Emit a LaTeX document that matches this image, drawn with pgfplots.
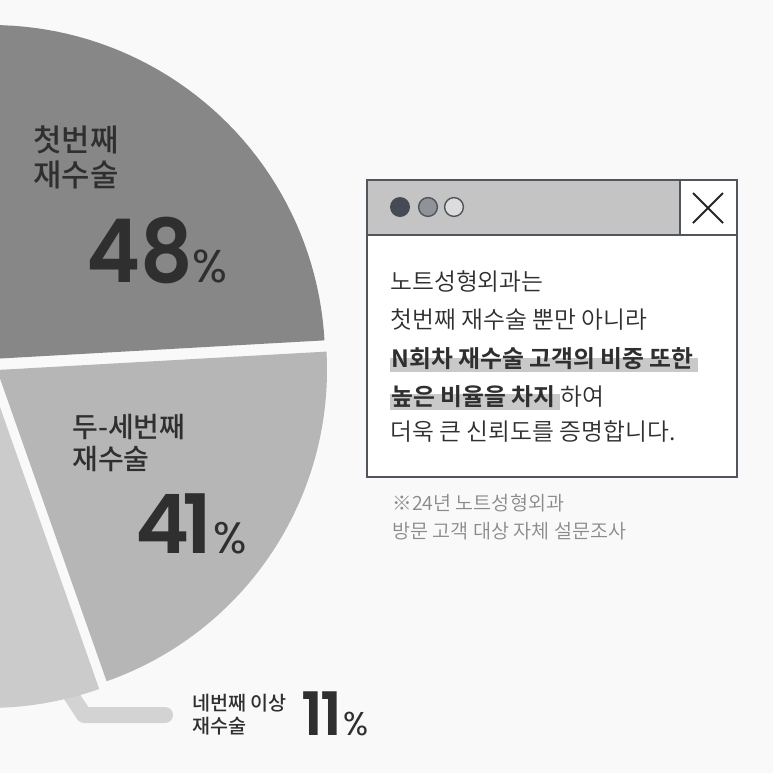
\documentclass[border=0pt]{standalone}
\usepackage{pgfplots}
\pgfplotsset{compat=1.18}
\usepackage{graphicx}
\usepackage{fontspec}
\setmainfont{Noto Sans CJK KR DemiLight}[BoldFont={Noto Sans CJK KR Bold}]
\newfontfamily\krmed{Noto Sans CJK KR Medium}
\newfontfamily\pop{Poppins}
\newfontfamily\popsb{Poppins SemiBold}
\definecolor{bg}{HTML}{F9F9F9}
\definecolor{cA}{HTML}{878787}
\definecolor{cB}{HTML}{B6B6B6}
\definecolor{cC}{HTML}{CBCBCB}
\definecolor{cL}{HTML}{D3D3D3}
\definecolor{tx}{HTML}{2F2F2F}
\definecolor{bx}{HTML}{51555C}
\definecolor{bar}{HTML}{C4C4C4}
\definecolor{hl}{HTML}{C9C9C9}
\definecolor{dotA}{HTML}{454A55}
\definecolor{dotB}{HTML}{8F9399}
\definecolor{fn}{HTML}{8A8A8A}
\pagecolor{bg}
\begin{document}
\begin{tikzpicture}
\begin{axis}[
  scale only axis, width=386.5pt, height=386.5pt,
  xmin=0, xmax=773, ymin=0, ymax=773, y dir=reverse,
  hide axis, clip=true,
]
% leader line for the 11% slice
\addplot[draw=cL, line width=8pt, line cap=round, line join=round] coordinates {(61,680) (84,715) (165,715)};
% slices (48%, 41%, 11%)
\addplot[fill=cA, draw=none, domain=3.2:190, samples=100, variable=\t] ({-9+334*cos(t)}, {359-334*sin(t)}) -- (axis cs:-9,359) -- cycle;
\addplot[fill=cB, draw=none, domain=-70.6:3.2, samples=60, variable=\t] ({-3+330*cos(t)}, {370-330*sin(t)}) -- (axis cs:-3,370) -- cycle;
\addplot[fill=cC, draw=none, domain=-190:-70.6, samples=100, variable=\t] ({-12+335*cos(t)}, {373-335*sin(t)}) -- (axis cs:-12,373) -- cycle;

% slice labels
\node[anchor=base west, inner sep=0, text=tx, font=\krmed\fontsize{15.4}{15.4}\selectfont] at (axis cs:33,151) {첫번째};
\node[anchor=base west, inner sep=0, text=tx, font=\krmed\fontsize{15.4}{15.4}\selectfont] at (axis cs:33,186) {재수술};
\node[anchor=base west, inner sep=0, text=tx] at (axis cs:86,282) {\scalebox{0.93}[1]{\popsb\fontsize{44}{44}\selectfont 48}\kern-0.5pt{\pop\fontsize{23}{23}\selectfont\%}};

\node[anchor=base west, inner sep=0, text=tx, font=\krmed\fontsize{14}{14}\selectfont] at (axis cs:72,437) {두-세번째};
\node[anchor=base west, inner sep=0, text=tx, font=\krmed\fontsize{14}{14}\selectfont] at (axis cs:72,469) {재수술};
\node[anchor=base west, inner sep=0, text=tx] at (axis cs:135,553) {{\popsb\fontsize{41}{41}\selectfont 4\kern-3.5pt1}\kern0.5pt{\pop\fontsize{22}{22}\selectfont\%}};

\node[anchor=base west, inner sep=0, text=tx, font=\krmed\fontsize{9.8}{9.8}\selectfont] at (axis cs:192,710) {네번째 이상};
\node[anchor=base west, inner sep=0, text=tx, font=\krmed\fontsize{9.8}{9.8}\selectfont] at (axis cs:192,733) {재수술};
\node[anchor=base west, inner sep=0, text=tx] at (axis cs:301,735) {{\popsb\fontsize{30}{30}\selectfont 1\kern-1.5pt1}\kern1pt{\pop\fontsize{16.5}{16.5}\selectfont\%}};

% window box
\fill[white] (axis cs:367,180) rectangle (axis cs:737,477);
\fill[bar] (axis cs:367,180) rectangle (axis cs:680,235);
\draw[bx, line width=1pt] (axis cs:367,180) rectangle (axis cs:737,477);
\draw[bx, line width=1pt] (axis cs:367,235) -- (axis cs:737,235);
\draw[bx, line width=1pt] (axis cs:680,180) -- (axis cs:680,235);
\draw[black!85, line width=1pt] (axis cs:693,193) -- (axis cs:723,223);
\draw[black!85, line width=1pt] (axis cs:693,223) -- (axis cs:723,193);
\fill[dotA] (axis cs:400,207) circle[radius=5pt];
\filldraw[fill=dotB, draw=bx, line width=0.7pt] (axis cs:428,207) circle[radius=4.7pt];
\filldraw[fill=bar!60!white, draw=bx, line width=0.7pt] (axis cs:454,207) circle[radius=4.7pt];

% highlights
\fill[hl] (axis cs:390,358) rectangle (axis cs:698,372);
\fill[hl] (axis cs:390,394) rectangle (axis cs:560,410);

% body text
\begin{scope}[every node/.style={anchor=base west, inner sep=0, text=tx, font=\fontsize{11.9}{13}\selectfont}]
\node at (axis cs:390,290) {노트성형외과는};
\node at (axis cs:390,328) {첫번째 재수술 뿐만 아니라};
\node at (axis cs:391,367) {\bfseries N회차 재수술 고객의 비중 또한};
\node at (axis cs:391,405) {{\bfseries 높은 비율을 차지} 하여};
\node at (axis cs:390,440) {더욱 큰 신뢰도를 증명합니다.};
\end{scope}

% footnote
\node[anchor=base west, inner sep=0, text=fn, font=\fontsize{9.8}{9.8}\selectfont] at (axis cs:392,510) {※24년 노트성형외과};
\node[anchor=base west, inner sep=0, text=fn, font=\fontsize{9.8}{9.8}\selectfont] at (axis cs:392,538) {방문 고객 대상 자체 설문조사};
\end{axis}
\path (current axis.south west) rectangle (current axis.north east);
\end{tikzpicture}
\end{document}
